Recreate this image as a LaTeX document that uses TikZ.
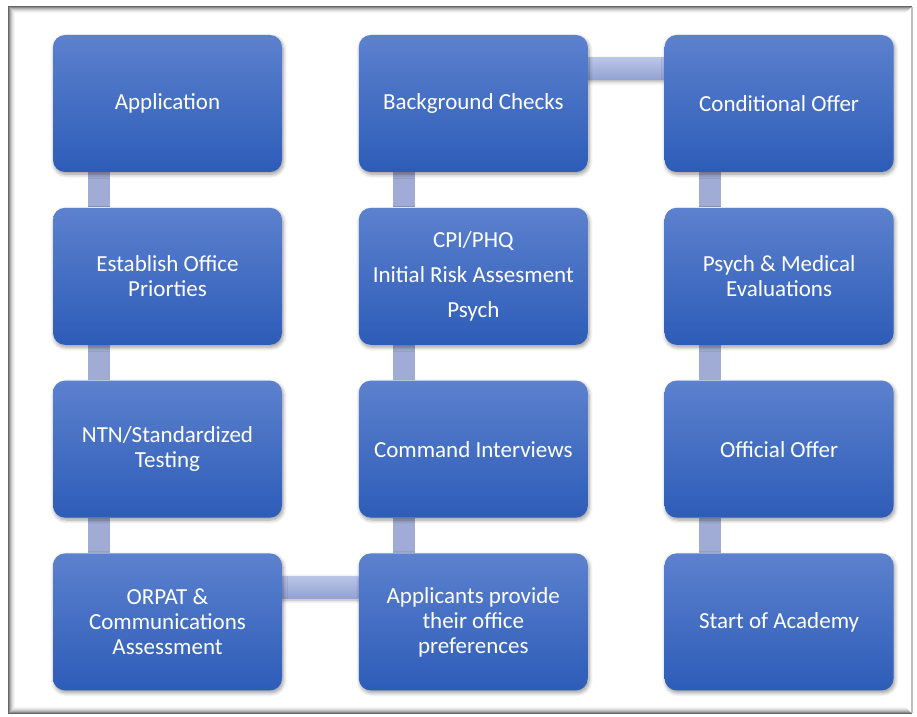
\documentclass[tikz,border=0pt]{standalone}
\usepackage{fontspec}
\setmainfont{Carlito}
\usepackage{xcolor}
\usetikzlibrary{shadows, shadows.blur}
\usetikzlibrary{positioning}
\usetikzlibrary{backgrounds}

\definecolor{boxtop}{RGB}{92,129,206}
\definecolor{boxbot}{RGB}{45,92,184}
\definecolor{bartop}{RGB}{186,197,232}
\definecolor{barbot}{RGB}{148,162,210}
\definecolor{barmid}{RGB}{160,172,214}

\tikzset{
	stage/.style={rounded corners=6pt, top color=boxtop, bottom color=boxbot, minimum width=114.5pt, minimum height=68.5pt, text=white, align=center, font=\fontsize{11.5}{12.5}\selectfont, blur shadow={shadow xshift=0.6pt, shadow yshift=-1.2pt, shadow blur steps=6, shadow opacity=40}},
	link/.style={fill=barmid},
	hlink/.style={top color=bartop, bottom color=barbot, blur shadow={shadow xshift=0pt, shadow yshift=-1pt, shadow blur steps=4, shadow opacity=35}}
}

\begin{document}
\begin{tikzpicture}[x=0.5pt, y=-0.5pt]
	\useasboundingbox (0,0) rectangle (917,717);
	
	% frame, darker on the left, top and bottom
	\foreach \i/\c in {0/60,1/45,2/32,3/22,4/14,5/8,6/4}
		\draw[black!\c, line width=0.5pt] (912-\i,7+\i) -- (8+\i,7+\i) -- (8+\i,713-\i) -- (912-\i,713-\i);
	\draw[black!25, line width=1pt] (912,7) -- (912,713);
	
	% first column
	\node[stage] (app) at (167.5,103.5) {Application};
	\node[stage, below=17.5pt of app] (est) {Establish Office\\Priorties};
	\node[stage, below=17.5pt of est] (ntn) {NTN/Standardized\\Testing};
	\node[stage, below=17.5pt of ntn] (orpat) {ORPAT \&\\Communications\\Assessment};
	
	% second column
	\node[stage, right=38pt of orpat] (pref) {Applicants provide\\their office\\preferences};
	\node[stage, above=17.5pt of pref] (cmd) {Command Interviews};
	\node[stage, above=17.5pt of cmd] (cpi) {CPI/PHQ\\[5pt]Initial Risk Assesment\\[5pt]Psych};
	\node[stage, above=17.5pt of cpi] (bg) {Background Checks};
	
	% third column
	\node[stage, right=38pt of bg] (cond) {Conditional Offer};
	\node[stage, below=17.5pt of cond] (psy) {Psych \& Medical\\Evaluations};
	\node[stage, below=17.5pt of psy] (off) {Official Offer};
	\node[stage, below=17.5pt of off] (acad) {Start of Academy};
	
	% bars behind the boxes
	\begin{pgfonlayer}{background}
		\foreach \a/\b in {app/est, est/ntn, ntn/orpat, cmd/pref, cpi/cmd, bg/cpi, cond/psy, psy/off, off/acad}
			\fill[link] ([xshift=17.5pt]\a.south west) rectangle ([xshift=28.5pt]\b.north west);
		\shade[hlink] ([yshift=-11.5pt]orpat.north east) rectangle ([yshift=-22.5pt]pref.north west);
		\shade[hlink] ([yshift=-11.5pt]bg.north east) rectangle ([yshift=-22.5pt]cond.north west);
	\end{pgfonlayer}
\end{tikzpicture}
\end{document}
